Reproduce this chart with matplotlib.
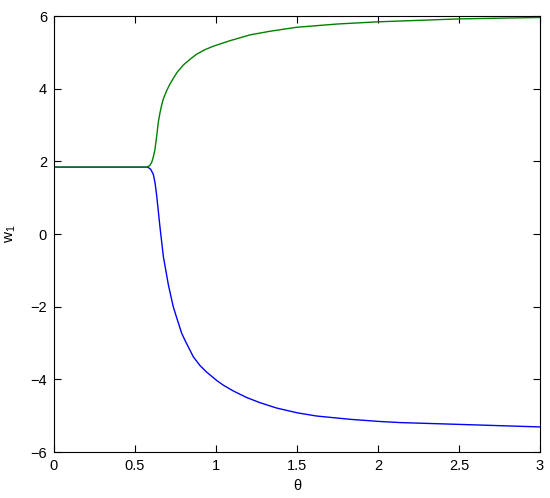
import matplotlib
matplotlib.use("Agg")
import matplotlib.pyplot as plt

plt.rcParams["font.family"] = ["Liberation Sans", "DejaVu Sans"]
plt.rcParams["mathtext.fontset"] = "custom"
plt.rcParams["mathtext.rm"] = "Liberation Sans"

# values
theta_green = [0.0, 0.3, 0.57, 0.576, 0.590, 0.603, 0.613, 0.623, 0.634, 0.644,
               0.654, 0.665, 0.675, 0.696, 0.716, 0.736, 0.760, 0.798, 0.840,
               0.881, 0.930, 0.984, 1.086, 1.210, 1.333, 1.498, 1.750, 2.0,
               2.25, 2.5, 3.0]
w_green = [1.84, 1.84, 1.84, 1.85, 1.88, 1.97, 2.12, 2.32, 2.70, 3.08,
           3.33, 3.56, 3.72, 3.95, 4.13, 4.28, 4.45, 4.65, 4.81,
           4.95, 5.07, 5.17, 5.32, 5.48, 5.58, 5.69, 5.78, 5.84,
           5.88, 5.92, 5.96]

theta_blue = [0.0, 0.3, 0.57, 0.582, 0.597, 0.613, 0.624, 0.634, 0.654, 0.675,
              0.706, 0.736, 0.757, 0.788, 0.809, 0.860, 0.901, 0.942, 1.004,
              1.045, 1.107, 1.189, 1.270, 1.374, 1.500, 1.621, 1.827, 2.01,
              2.136, 2.5, 3.0]
w_blue = [1.84, 1.84, 1.84, 1.83, 1.78, 1.64, 1.40, 1.05, 0.20, -0.62,
          -1.40, -2.00, -2.30, -2.73, -2.93, -3.38, -3.62, -3.80, -4.03,
          -4.16, -4.32, -4.50, -4.64, -4.79, -4.92, -5.01, -5.10, -5.16,
          -5.19, -5.24, -5.31]

x_ticks = [0, 0.5, 1, 1.5, 2, 2.5, 3]
x_tick_labels = ["0", "0.5", "1", "1.5", "2", "2.5", "3"]
y_ticks = [-6, -4, -2, 0, 2, 4, 6]

fig = plt.figure(figsize=(5.5, 4.98), dpi=100)
ax = fig.add_axes([54 / 550, 1 - 452 / 498, 486 / 550, 436 / 498])

ax.plot(theta_blue, w_blue, color="#0000ff", linewidth=1.0)
ax.plot(theta_green, w_green, color="#008000", linewidth=1.0)

ax.set_xlim(0, 3)
ax.set_ylim(-6, 6)
ax.set_xticks(x_ticks)
ax.set_xticklabels(x_tick_labels)
ax.set_yticks(y_ticks)
ax.tick_params(direction="in", length=5, width=0.8, top=True, right=True,
               labelsize=10.5, colors="black", pad=5)
for spine in ax.spines.values():
    spine.set_linewidth(0.8)

ax.set_xlabel("θ", fontsize=10.5, labelpad=4)
ax.set_ylabel("w$_1$", fontsize=11, labelpad=9)

fig.savefig("out.png", dpi=100, facecolor="white")
